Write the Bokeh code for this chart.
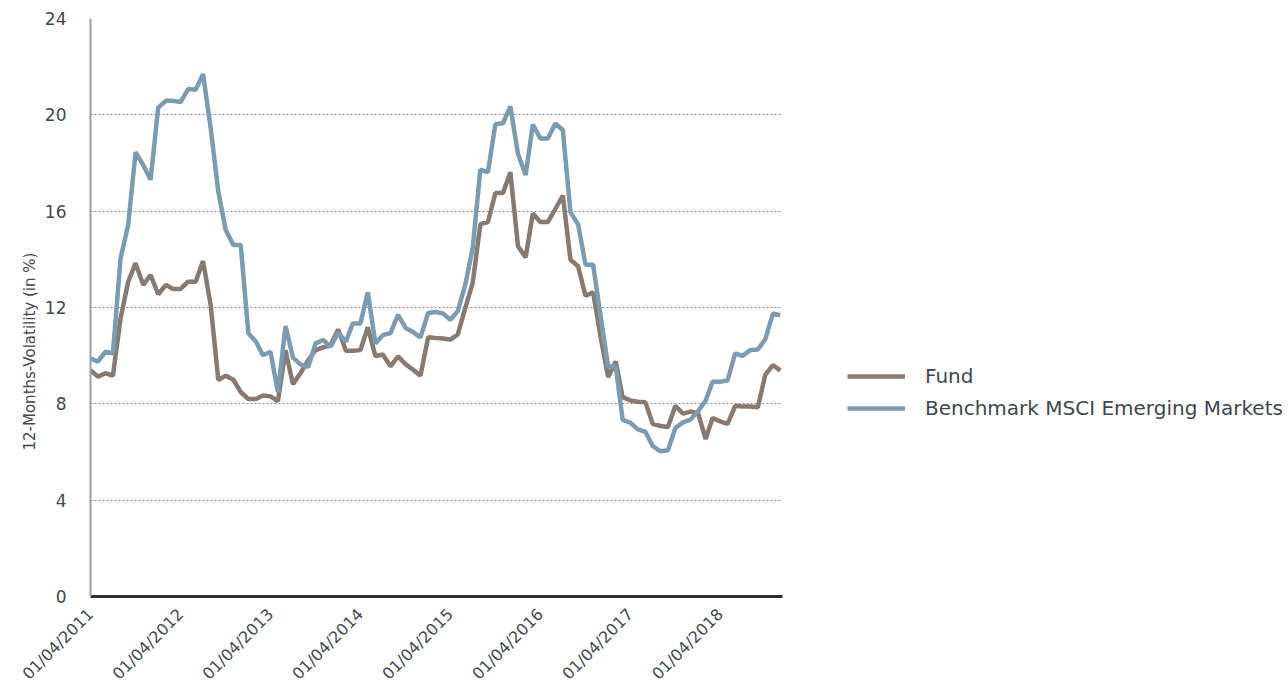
import math
import pandas as pd
from bokeh.plotting import figure
from bokeh.layouts import row
from bokeh.models import (Range1d, FixedTicker, DatetimeTickFormatter, Legend, LegendItem,
                          ColumnDataSource, Title)
from bokeh.embed import file_html
from bokeh.resources import INLINE

# ---- data -------------------------------------------------------------
dates = pd.date_range("2011-04-01", periods=93, freq="MS")

fund = [9.40, 9.13, 9.27, 9.17, 11.55, 13.07, 13.84, 12.94, 13.35, 12.55,
        12.94, 12.77, 12.77, 13.07, 13.07, 13.93, 12.10, 8.99, 9.17, 9.00,
        8.49, 8.20, 8.20, 8.35, 8.31, 8.11, 10.23, 8.81, 9.28, 9.81,
        10.23, 10.34, 10.44, 11.09, 10.20, 10.20, 10.23, 11.18, 9.98, 10.05,
        9.56, 9.97, 9.65, 9.42, 9.17, 10.76, 10.73, 10.71, 10.67, 10.87,
        11.98, 13.02, 15.46, 15.55, 16.75, 16.75, 17.62, 14.54, 14.08, 15.90,
        15.55, 15.55, 16.10, 16.65, 13.98, 13.71, 12.49, 12.63, 10.80, 9.11,
        9.76, 8.28, 8.14, 8.09, 8.07, 7.17, 7.08, 7.04, 7.92, 7.59,
        7.68, 7.61, 6.54, 7.41, 7.27, 7.17, 7.92, 7.89, 7.89, 7.86,
        9.20, 9.61, 9.38]

benchmark = [9.89, 9.75, 10.17, 10.10, 14.04, 15.43, 18.45, 17.92, 17.30, 20.30,
             20.58, 20.58, 20.53, 21.07, 21.04, 21.69, 19.45, 16.81, 15.22, 14.60,
             14.60, 10.93, 10.58, 10.02, 10.16, 8.49, 11.23, 9.92, 9.64, 9.53,
             10.51, 10.65, 10.37, 10.95, 10.58, 11.34, 11.34, 12.63, 10.51, 10.85,
             10.94, 11.70, 11.15, 10.98, 10.76, 11.77, 11.81, 11.76, 11.49, 11.84,
             12.95, 14.47, 17.72, 17.62, 19.61, 19.65, 20.35, 18.37, 17.50, 19.60,
             19.02, 19.02, 19.65, 19.36, 15.95, 15.45, 13.78, 13.78, 11.67, 9.55,
             9.55, 7.33, 7.22, 6.94, 6.84, 6.25, 6.03, 6.07, 7.00, 7.23,
             7.34, 7.69, 8.14, 8.92, 8.92, 8.97, 10.10, 9.99, 10.23, 10.26,
             10.68, 11.75, 11.68]

tick_dates = ["2011-04-01", "2012-04-01", "2013-04-01", "2014-04-01",
              "2015-04-01", "2016-04-01", "2017-04-01", "2018-04-01"]
y_ticks = [0, 4, 8, 12, 16, 20, 24]
series_names = ["Fund", "Benchmark MSCI Emerging Markets"]
y_title = "12-Months-Volatility (in %)"
colors = ["#877a70", "#7b9cb0"]

# ---- figure -----------------------------------------------------------
FONT = "DejaVu Sans"
TXT = "#41474f"

src = ColumnDataSource(dict(x=dates, fund=fund, bench=benchmark))

p = figure(width=784, height=693, x_axis_type="datetime",
           output_backend="svg", toolbar_location=None,
           min_border_left=90, min_border_top=18, min_border_bottom=96,
           min_border_right=2)
p.x_range = Range1d(pd.Timestamp("2011-04-01"), pd.Timestamp("2018-12-10"))
p.y_range = Range1d(0, 24)
p.outline_line_color = None
p.background_fill_color = "white"
p.border_fill_color = "white"

r_f = p.line("x", "fund", source=src, line_color=colors[0], line_width=4.5)
r_b = p.line("x", "bench", source=src, line_color=colors[1], line_width=4.5)

# axes
xa = p.xaxis[0]
xa.ticker = FixedTicker(ticks=[pd.Timestamp(d).value / 1e6 for d in tick_dates])
xa.formatter = DatetimeTickFormatter(days="%d/%m/%Y", months="%d/%m/%Y",
                                     years="%d/%m/%Y")
xa.major_label_orientation = math.pi / 4
xa.major_tick_line_color = None
xa.minor_tick_line_color = None
xa.axis_line_color = "#2b2f33"
xa.axis_line_width = 3
xa.major_label_text_font = FONT
xa.major_label_text_font_size = "16px"
xa.major_label_text_color = TXT
xa.major_label_standoff = 9

ya = p.yaxis[0]
ya.ticker = FixedTicker(ticks=y_ticks)
ya.major_tick_line_color = None
ya.minor_tick_line_color = None
ya.axis_line_color = "#9aa0a6"
ya.axis_line_width = 2
ya.major_label_text_font = FONT
ya.major_label_text_font_size = "17px"
ya.major_label_text_color = TXT
ya.major_label_standoff = 18

# y-axis title, placed below the frame centre as in the reference
t = Title(text=y_title, align="left", offset=146, standoff=5,
          text_font=FONT, text_font_size="15px", text_font_style="normal",
          text_color=TXT)
p.add_layout(t, "left")

p.xgrid.grid_line_color = None
p.ygrid.grid_line_color = "#8a8a8a"
p.ygrid.grid_line_dash = "2 2"
p.ygrid.grid_line_width = 1

# ---- legend area (separate panel to the right of the plot) -------------
q = figure(width=504, height=693, output_backend="svg", toolbar_location=None,
           x_axis_location=None, y_axis_location=None,
           min_border_left=0, min_border_right=0, min_border_top=0,
           min_border_bottom=0)
q.x_range = Range1d(0, 1)
q.y_range = Range1d(0, 1)
q.outline_line_color = None
q.xgrid.grid_line_color = None
q.ygrid.grid_line_color = None
lf = q.line([-5, -4], [-5, -4], line_color=colors[0], line_width=4.5)
lb = q.line([-5, -4], [-5, -4], line_color=colors[1], line_width=4.5)

legend = Legend(items=[LegendItem(label=series_names[0], renderers=[lf]),
                       LegendItem(label=series_names[1], renderers=[lb])],
                location=(63, 175))
legend.border_line_color = None
legend.background_fill_alpha = 0
legend.label_text_font = FONT
legend.label_text_font_size = "20px"
legend.label_text_color = TXT
legend.glyph_width = 58
legend.glyph_height = 26
legend.label_height = 26
legend.label_standoff = 20
legend.spacing = 6
legend.padding = 10
legend.margin = 0
q.add_layout(legend, "center")

layout = row(p, q, spacing=0)
open("out.html", "w").write(file_html(layout, INLINE))
